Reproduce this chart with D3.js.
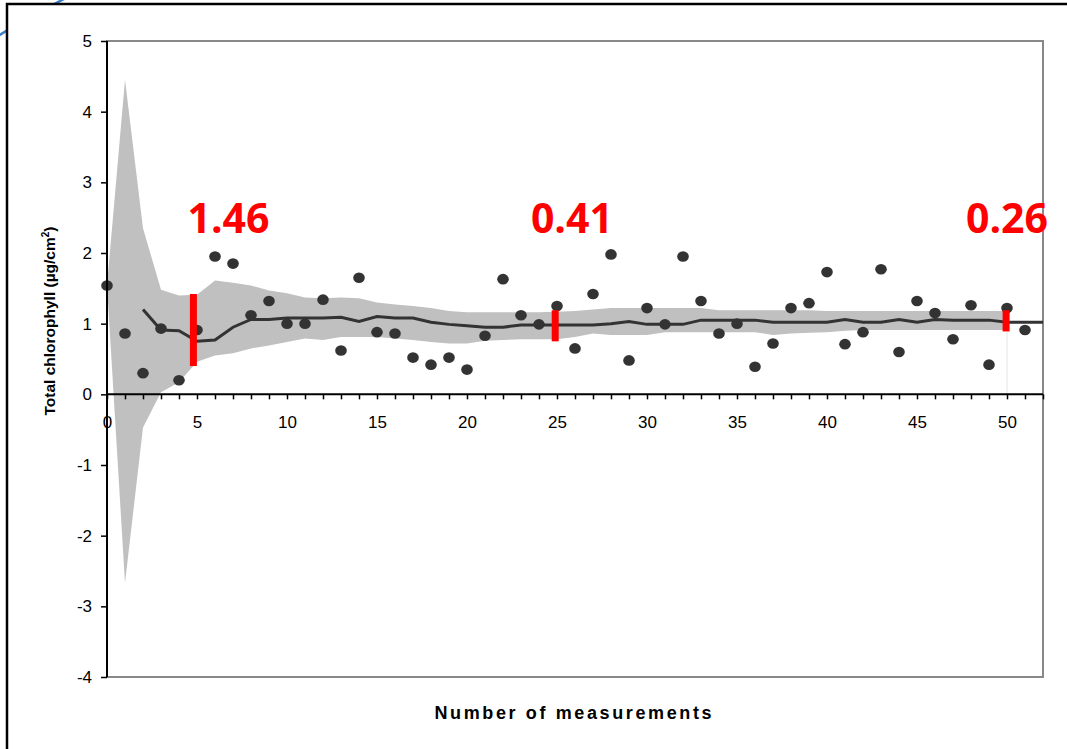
<!doctype html>
<html>
<head>
<meta charset="utf-8">
<script src="https://d3js.org/d3.v7.min.js"></script>
<style>
  body { margin: 0; background: #fff; }
  svg { display: block; font-family: "Liberation Sans", Arial, sans-serif; }
</style>
</head>
<body>
<div id="chart"></div>
<script>
// individual measurements (x = measurement index 0..51)
var points = [1.54, 0.86, 0.30, 0.93, 0.20, 0.91, 1.95, 1.85, 1.12, 1.32,
              1.00, 1.00, 1.34, 0.62, 1.65, 0.88, 0.86, 0.52, 0.42, 0.52,
              0.35, 0.83, 1.63, 1.12, 0.99, 1.25, 0.65, 1.42, 1.98, 0.48,
              1.22, 0.99, 1.95, 1.32, 0.86, 1.00, 0.39, 0.72, 1.22, 1.29,
              1.73, 0.71, 0.88, 1.77, 0.60, 1.32, 1.15, 0.78, 1.26, 0.42,
              1.22, 0.91];

// running mean, starts at measurement 2 and runs to the right edge (52)
var meanStart = 2;
var meanVals = [1.20, 0.91, 0.90, 0.75, 0.77, 0.95, 1.06, 1.06, 1.08, 1.08,
                1.08, 1.09, 1.03, 1.10, 1.08, 1.08, 1.02, 0.99, 0.97, 0.95,
                0.95, 0.98, 0.98, 0.98, 0.98, 0.98, 1.00, 1.03, 0.99, 0.99,
                0.99, 1.05, 1.05, 1.05, 1.05, 1.02, 1.02, 1.02, 1.02, 1.06,
                1.02, 1.02, 1.06, 1.02, 1.06, 1.05, 1.05, 1.05, 1.02, 1.02,
                1.02];

// confidence band (x = 0..50)
var bandUpper = [1.54, 4.45, 2.35, 1.48, 1.40, 1.41, 1.61, 1.58, 1.54, 1.47,
                 1.43, 1.37, 1.36, 1.37, 1.36, 1.30, 1.27, 1.25, 1.22, 1.18,
                 1.16, 1.16, 1.16, 1.16, 1.16, 1.17, 1.18, 1.20, 1.22, 1.22,
                 1.22, 1.22, 1.22, 1.22, 1.19, 1.19, 1.19, 1.19, 1.19, 1.19,
                 1.18, 1.18, 1.18, 1.18, 1.18, 1.18, 1.18, 1.18, 1.18, 1.18,
                 1.18];
var bandLower = [1.54, -2.67, -0.47, 0.03, 0.17, 0.46, 0.55, 0.58, 0.65, 0.69,
                 0.74, 0.79, 0.77, 0.81, 0.81, 0.81, 0.79, 0.77, 0.74, 0.72,
                 0.72, 0.76, 0.77, 0.78, 0.78, 0.78, 0.81, 0.86, 0.84, 0.84,
                 0.84, 0.88, 0.88, 0.88, 0.88, 0.88, 0.88, 0.84, 0.86, 0.87,
                 0.88, 0.90, 0.91, 0.91, 0.91, 0.91, 0.91, 0.91, 0.91, 0.91,
                 0.91];

// red interval markers and their labels
var markX = [4.8, 24.9, 49.95];
var markTop = [1.42, 1.19, 1.19];
var markBottom = [0.40, 0.75, 0.89];
var markLabels = ["1.46", "0.41", "0.26"];
var markLabelX = [6.75, 25.83, 50.0];
var markLabelY = 2.28;

var xTicks = d3.range(0, 53);
var yTicks = [-4, -3, -2, -1, 0, 1, 2, 3, 4, 5];

var w = 1067, h = 749;
var plotL = 107, plotR = 1043, plotT = 41, plotB = 677;

var svg = d3.select("#chart").append("svg")
    .attr("width", w)
    .attr("height", h);

// blue curve peeking out behind the frame
svg.append("path")
    .attr("d", "M-2,36 Q30,16 68,-3")
    .attr("fill", "none")
    .attr("stroke", "#3d80c8")
    .attr("stroke-width", 2.5);

// outer frame
svg.append("rect")
    .attr("x", 7).attr("y", 4)
    .attr("width", w + 20).attr("height", h + 20)
    .attr("fill", "#fff")
    .attr("stroke", "#000")
    .attr("stroke-width", 2.5);

var x = d3.scaleLinear().domain([0, 52]).range([plotL, plotR]);
var y = d3.scaleLinear().domain([-4, 5]).range([plotB, plotT]);

// plot border (gray)
svg.append("rect")
    .attr("x", plotL).attr("y", plotT)
    .attr("width", plotR - plotL).attr("height", plotB - plotT)
    .attr("fill", "none")
    .attr("stroke", "#888")
    .attr("stroke-width", 2);

// band
var band = d3.area()
    .x(function (d, i) { return x(i); })
    .y0(function (d, i) { return y(bandLower[i]); })
    .y1(function (d) { return y(d); });

svg.append("path")
    .datum(bandUpper)
    .attr("d", band)
    .attr("fill", "#c0c0c0");

// faint drop line at the last marker
svg.append("line")
    .attr("x1", x(50)).attr("x2", x(50))
    .attr("y1", y(markBottom[2])).attr("y2", y(0))
    .attr("stroke", "#e4e4e4")
    .attr("stroke-width", 1);

// mean line
var line = d3.line()
    .x(function (d, i) { return x(i + meanStart); })
    .y(function (d) { return y(d); });

svg.append("path")
    .datum(meanVals)
    .attr("d", line)
    .attr("fill", "none")
    .attr("stroke", "#333")
    .attr("stroke-width", 3);

// points
svg.selectAll("ellipse.pt")
    .data(points)
    .enter()
    .append("ellipse")
    .attr("class", "pt")
    .attr("cx", function (d, i) { return x(i); })
    .attr("cy", function (d) { return y(d); })
    .attr("rx", 5.8)
    .attr("ry", 5.3)
    .attr("fill", "#333");

// axes
var xAxis = d3.axisBottom(x)
    .tickValues(xTicks)
    .tickSize(5)
    .tickPadding(17)
    .tickFormat(function (d) { return d % 5 === 0 && d <= 50 ? d : ""; });

var gx = svg.append("g")
    .attr("transform", "translate(0," + y(0) + ")")
    .call(xAxis);
gx.select(".domain").attr("stroke", "#000").attr("stroke-width", 2).attr("d", "M" + plotL + ",0H" + plotR);
gx.selectAll(".tick line").attr("stroke", "#000").attr("stroke-width", 1.5);
gx.selectAll("text").attr("font-size", 17).attr("fill", "#000")
    .attr("font-family", "Liberation Sans, Arial, sans-serif");

var yAxis = d3.axisLeft(y)
    .tickValues(yTicks)
    .tickSize(6)
    .tickPadding(9)
    .tickFormat(function (d) { return String(d); });   // plain hyphen minus like the original

var gy = svg.append("g")
    .attr("transform", "translate(" + plotL + ",0)")
    .call(yAxis);
gy.select(".domain").attr("stroke", "#000").attr("stroke-width", 2).attr("d", "M0," + plotT + "V" + plotB);
gy.selectAll(".tick line").attr("stroke", "#000").attr("stroke-width", 1.5);
gy.selectAll("text").attr("font-size", 17).attr("fill", "#000")
    .attr("font-family", "Liberation Sans, Arial, sans-serif");

// red markers
svg.selectAll("line.mark")
    .data(markX)
    .enter()
    .append("line")
    .attr("class", "mark")
    .attr("x1", function (d) { return x(d); })
    .attr("x2", function (d) { return x(d); })
    .attr("y1", function (d, i) { return y(markTop[i]); })
    .attr("y2", function (d, i) { return y(markBottom[i]); })
    .attr("stroke", "#ff0000")
    .attr("stroke-width", 7);

svg.selectAll("text.marklabel")
    .data(markLabels)
    .enter()
    .append("text")
    .attr("class", "marklabel")
    .attr("x", function (d, i) { return x(markLabelX[i]); })
    .attr("y", y(markLabelY))
    .attr("text-anchor", "middle")
    .attr("font-family", "Open Sans, Liberation Sans, sans-serif")
    .attr("font-weight", "bold")
    .attr("font-size", 41)
    .attr("fill", "#ff0000")
    .text(function (d) { return d; });

// axis titles
svg.append("text")
    .attr("text-anchor", "middle")
    .attr("x", 573).attr("y", 719)
    .attr("font-weight", "bold")
    .attr("font-size", 18)
    .attr("textLength", 277)
    .attr("lengthAdjust", "spacing")
    .text("Number of measurements");

var yl = svg.append("text")
    .attr("text-anchor", "middle")
    .attr("transform", "translate(55,321)rotate(-90)")
    .attr("font-weight", "bold")
    .attr("font-size", 15.5);
yl.append("tspan").text("Total chlorophyll (µg/cm");
yl.append("tspan").attr("font-size", 10).attr("dy", -6).text("2");
yl.append("tspan").attr("dy", 6).text(")");
</script>
</body>
</html>
